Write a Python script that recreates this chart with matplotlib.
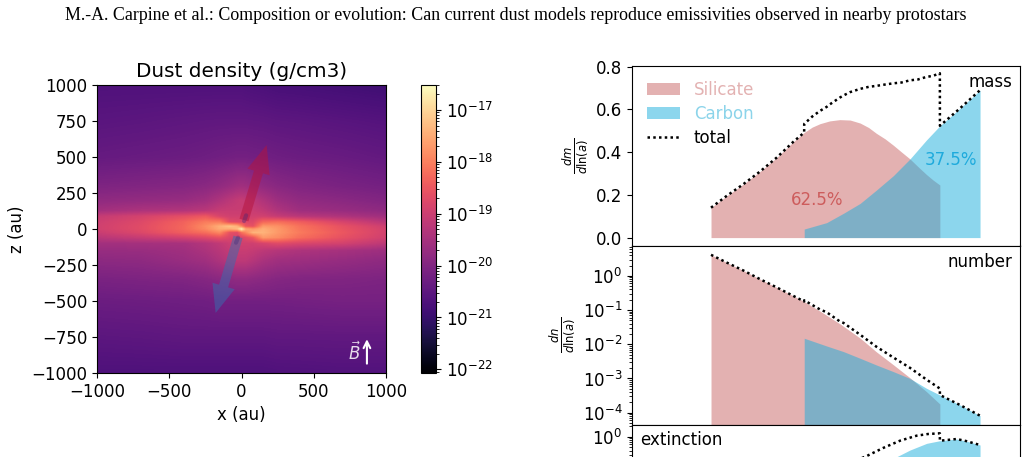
import matplotlib
matplotlib.use("Agg")
import matplotlib.pyplot as plt
from matplotlib.colors import LogNorm
import numpy as np

FIG_W, FIG_H = 1028, 457

# log10 of the dust density on a slice of the envelope (g/cm3)
x_au = [-1000, -700, -400, -250, -150, -80, -30, 0, 30, 80, 150, 250, 400, 700, 1000]
z_au = [1000, 750, 500, 300, 200, 130, 90, 50, 20, 0, -25, -60, -100, -150, -220, -350, -500, -750, -1000]
log_rho = [
    [-20.68, -20.68, -20.68, -20.68, -20.68, -20.68, -20.68, -20.68, -20.70, -20.72, -20.74, -20.78, -20.80, -20.85, -20.90],
    [-20.55, -20.52, -20.48, -20.46, -20.45, -20.45, -20.45, -20.45, -20.45, -20.46, -20.47, -20.50, -20.52, -20.57, -20.62],
    [-20.38, -20.34, -20.30, -20.26, -20.22, -20.20, -20.18, -20.18, -20.18, -20.20, -20.22, -20.26, -20.30, -20.35, -20.42],
    [-20.05, -20.00, -19.95, -19.88, -19.78, -19.68, -19.60, -19.58, -19.60, -19.68, -19.78, -19.90, -20.00, -20.10, -20.18],
    [-19.80, -19.75, -19.70, -19.58, -19.38, -19.22, -19.12, -19.08, -19.12, -19.22, -19.38, -19.62, -19.78, -19.88, -20.00],
    [-19.55, -19.42, -19.35, -19.25, -19.08, -19.05, -19.05, -19.05, -19.05, -19.05, -19.15, -19.38, -19.60, -19.70, -19.82],
    [-19.10, -18.90, -18.65, -18.50, -18.85, -18.95, -18.95, -18.95, -18.95, -18.95, -18.95, -19.10, -19.25, -19.40, -19.60],
    [-18.98, -18.75, -18.35, -18.05, -18.05, -18.70, -18.75, -18.75, -18.75, -18.75, -18.30, -18.20, -18.40, -18.85, -19.25],
    [-18.95, -18.70, -18.30, -17.85, -17.45, -17.20, -17.40, -17.90, -18.50, -18.60, -17.70, -17.80, -18.15, -18.60, -18.98],
    [-18.95, -18.70, -18.30, -17.90, -17.50, -17.50, -17.30, -16.60, -17.50, -17.70, -17.45, -17.70, -18.10, -18.55, -18.90],
    [-19.05, -18.78, -18.40, -18.20, -17.90, -18.60, -18.70, -18.20, -17.90, -17.40, -17.40, -17.70, -18.05, -18.50, -18.90],
    [-19.25, -19.08, -18.90, -18.75, -18.60, -18.80, -18.85, -18.80, -18.70, -18.50, -17.70, -17.85, -18.20, -18.60, -18.95],
    [-19.55, -19.52, -19.48, -19.32, -19.15, -19.00, -18.95, -18.95, -18.95, -18.95, -18.85, -18.70, -18.80, -18.90, -19.20],
    [-19.70, -19.68, -19.58, -19.42, -19.25, -19.10, -19.05, -19.05, -19.05, -19.10, -19.20, -19.30, -19.40, -19.50, -19.62],
    [-19.85, -19.82, -19.68, -19.58, -19.40, -19.25, -19.20, -19.20, -19.20, -19.30, -19.45, -19.58, -19.62, -19.72, -19.82],
    [-20.10, -20.06, -20.02, -19.95, -19.88, -19.84, -19.80, -19.80, -19.80, -19.84, -19.88, -19.95, -20.00, -20.02, -20.06],
    [-20.30, -20.28, -20.25, -20.23, -20.20, -20.20, -20.20, -20.20, -20.20, -20.20, -20.20, -20.20, -20.18, -20.15, -20.15],
    [-20.52, -20.50, -20.47, -20.47, -20.47, -20.47, -20.47, -20.47, -20.47, -20.47, -20.47, -20.45, -20.45, -20.44, -20.44],
    [-20.70, -20.70, -20.70, -20.70, -20.70, -20.70, -20.70, -20.70, -20.70, -20.70, -20.70, -20.68, -20.67, -20.65, -20.65],
]

# grain size distributions, sizes in nm
a_sil_m = [5, 6.53, 8.69, 11.6, 15.4, 20.4, 24.6, 28.2, 32.2, 38, 45.2, 54, 64, 74, 84.4, 98, 113, 130, 150, 172, 199, 222, 250]
mass_sil = [0.14, 0.195, 0.25, 0.31, 0.375, 0.448, 0.492, 0.517, 0.533, 0.546, 0.552, 0.55, 0.536, 0.515, 0.488,
            0.462, 0.432, 0.40, 0.368, 0.332, 0.295, 0.27, 0.246]
a_sil_n = [5, 6.53, 8.69, 11.6, 15.4, 20.4, 24.6, 32.2, 45.2, 64, 84.4, 113, 150, 199, 250]
lognum_sil = [0.615, 0.39, 0.156, -0.10, -0.34, -0.585, -0.75, -1.03, -1.40, -1.82, -2.22, -2.60, -2.98, -3.385, -3.746]

a_car = [24.6, 36.1, 48.2, 64, 84.4, 113, 150, 199, 250, 353, 497]
mass_car = [0.04, 0.07, 0.114, 0.16, 0.222, 0.29, 0.368, 0.457, 0.523, 0.605, 0.69]
lognum_car = [-1.824, -2.05, -2.215, -2.41, -2.605, -2.80, -3.0, -3.288, -3.483, -3.776, -4.088]

a_ext_car = [89.9, 119.6, 150, 199.7, 250, 333, 391, 497]
logext_car = [-0.81, -0.571, -0.38, -0.189, -0.114, -0.066, -0.123, -0.237]
a_ext_tot = [53.8, 71.6, 94.6, 126.5, 168, 204, 250]
logext_tot = [-0.751, -0.551, -0.323, -0.114, 0.029, 0.077, 0.097]

mass_labels = ["62.5%", "37.5%"]

C_SIL = "#C86464"
C_CAR = "#1AAFDC"
C_SIL_TEXT = "#CD5C5C"
C_CAR_TEXT = "#1EAADC"
DOTS = (0, (1, 1.3))


def axes_px(fig, left, top, right, bottom):
    # axes from pixel edges, y counted from the top of the figure
    return fig.add_axes([left / FIG_W, 1 - bottom / FIG_H, (right - left) / FIG_W, (bottom - top) / FIG_H])


def total_curve(a1, y1, a2, y2):
    # sum of both populations, with nodes either side of each size cut-off
    a1, y1, a2, y2 = map(np.asarray, (a1, y1, a2, y2))
    edges = [a1[-1] * 1.001, a2[0] * 0.999]
    grid = np.unique(np.concatenate([a1, a2, edges]))
    tot = np.interp(grid, a1, y1, left=0, right=0) + np.interp(grid, a2, y2, left=0, right=0)
    return grid, tot


def density_image(nx=289, nz=288):
    # resample the irregular table onto the pixel grid used by imshow
    xs = np.linspace(-1000, 1000, nx)
    zs = np.linspace(1000, -1000, nz)
    table = np.array(log_rho)
    rows = np.array([np.interp(xs, x_au, row) for row in table])
    z_up = np.array(z_au)[::-1]
    img = np.array([np.interp(zs, z_up, col[::-1]) for col in rows.T]).T
    return 10 ** img


def main():
    plt.rcParams["font.size"] = 12
    fig = plt.figure(figsize=(FIG_W / 100, FIG_H / 100), dpi=100)

    fig.text(516 / FIG_W, 1 - 15 / FIG_H,
             "M.-A. Carpine et al.: Composition or evolution: Can current dust models "
             "reproduce emissivities observed in nearby protostars",
             family="Liberation Serif", fontsize=12.83, ha="center", va="center")

    # density map
    ax = axes_px(fig, 97, 85, 386, 373)
    norm = LogNorm(vmin=10 ** -22.07, vmax=10 ** -16.52)
    mesh = ax.imshow(density_image(), cmap="magma", norm=norm, extent=[-1000, 1000, -1000, 1000],
                     aspect="auto", interpolation="bilinear")
    ax.set_xticks([-1000, -500, 0, 500, 1000])
    ax.set_yticks(np.arange(-1000, 1001, 250))
    ax.set_xlabel("x (au)")
    ax.set_ylabel("z (au)")
    ax.set_title("Dust density (g/cm3)", fontsize=14.4)

    ax.arrow(17, 62, 157, 521, width=65, head_width=160, head_length=195, length_includes_head=True,
             color="#B4143C", alpha=0.5, linewidth=0)
    ax.arrow(-24, -55, -155, -528, width=65, head_width=160, head_length=195, length_includes_head=True,
             color="#376EAF", alpha=0.5, linewidth=0)
    ax.plot([18, 32], [55, 95], color="#3C2878", lw=3, alpha=0.35, solid_capstyle="round")
    ax.plot([-38, -24], [-95, -60], color="#3C2878", lw=3, alpha=0.35, solid_capstyle="round")

    ax.text(785, -860, r"$\vec{B}$", color="white", alpha=0.85, ha="center", va="center")
    ax.annotate("", xy=(868, -765), xytext=(868, -935),
                arrowprops=dict(arrowstyle="->", color="white", lw=1.5, shrinkA=0, shrinkB=0))

    cax = axes_px(fig, 421, 85, 436, 373)
    fig.colorbar(mesh, cax=cax)

    # size distributions
    ax_m = axes_px(fig, 632, 66, 1020, 245.5)
    ax_n = axes_px(fig, 632, 245.5, 1020, 425)
    ax_e = axes_px(fig, 632, 425, 1020, 605)

    ax_m.fill_between(a_sil_m, mass_sil, color=C_SIL, alpha=0.5, linewidth=0, label="Silicate")
    ax_m.fill_between(a_car, mass_car, color=C_CAR, alpha=0.5, linewidth=0, label="Carbon")
    a_tot, m_tot = total_curve(a_sil_m, mass_sil, a_car, mass_car)
    ax_m.plot(a_tot, m_tot, "k", ls=DOTS, lw=1.8, label="total")
    ax_m.set_ylim(-0.037, 0.803)
    ax_m.set_yticks([0, 0.2, 0.4, 0.6, 0.8])
    ax_m.set_ylabel(r"$\frac{dm}{d\ln(a)}$")
    ax_m.text(30.6, 0.176, mass_labels[0], color=C_SIL_TEXT, ha="center", va="center")
    ax_m.text(301, 0.363, mass_labels[1], color=C_CAR_TEXT, ha="center", va="center")
    ax_m.text(0.98, 0.91, "mass", transform=ax_m.transAxes, ha="right", va="center")
    leg = ax_m.legend(loc="upper left", frameon=False, labelspacing=0.35)
    for txt, col in zip(leg.get_texts(), ["#E3B2B2", "#8CD4EA", "black"]):
        txt.set_color(col)

    n_sil = 10 ** np.array(lognum_sil)
    n_car = 10 ** np.array(lognum_car)
    ax_n.set_yscale("log")
    ax_n.fill_between(a_sil_n, 1e-6, n_sil, color=C_SIL, alpha=0.5, linewidth=0)
    ax_n.fill_between(a_car, 1e-6, n_car, color=C_CAR, alpha=0.5, linewidth=0)
    a_tot, n_tot = total_curve(a_sil_n, n_sil, a_car, n_car)
    ax_n.plot(a_tot, n_tot, "k", ls=DOTS, lw=1.8)
    ax_n.set_ylim(10 ** -4.36, 10 ** 0.887)
    ax_n.set_ylabel(r"$\frac{dn}{d\ln(a)}$")
    ax_n.text(0.98, 0.91, "number", transform=ax_n.transAxes, ha="right", va="center")

    e_car = 10 ** np.array(logext_car)
    ax_e.set_yscale("log")
    ax_e.fill_between(a_ext_car, 1e-6, e_car, color=C_CAR, alpha=0.5, linewidth=0)
    ax_e.plot(a_ext_tot + a_ext_car[4:], 10 ** np.array(logext_tot + logext_car[4:]), "k", ls=DOTS, lw=1.8)
    ax_e.set_ylim(10 ** -4.8, 10 ** 0.334)
    ax_e.text(0.02, 0.915, "extinction", transform=ax_e.transAxes, ha="left", va="center")

    for a in (ax_m, ax_n, ax_e):
        a.set_xscale("log")
        a.set_xlim(1.295, 984)
        a.tick_params(axis="x", which="both", bottom=False, labelbottom=False)

    fig.savefig("out.png", dpi=100)


if __name__ == "__main__":
    main()
